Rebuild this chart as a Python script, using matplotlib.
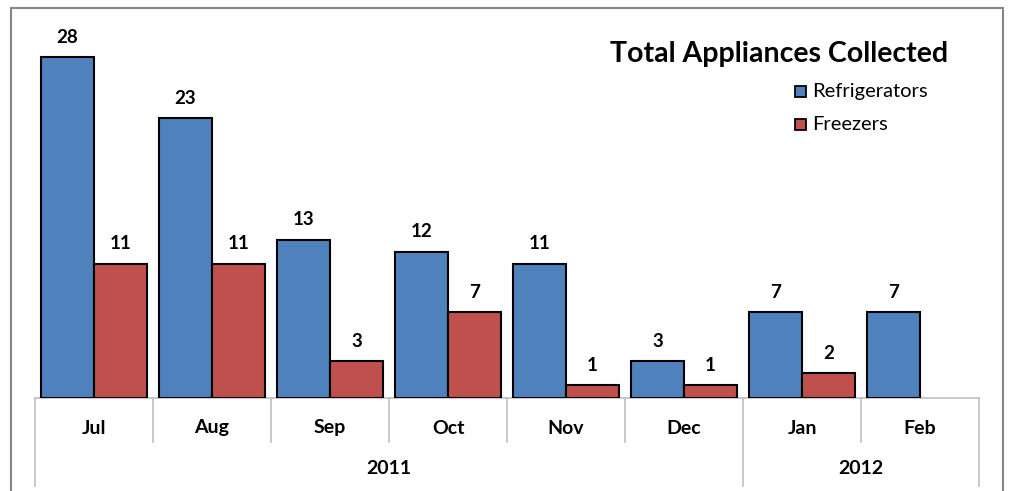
import matplotlib
matplotlib.use("Agg")
import matplotlib.pyplot as plt
from matplotlib.patches import Rectangle
from matplotlib.lines import Line2D

months = ["Jul", "Aug", "Sep", "Oct", "Nov", "Dec", "Jan", "Feb"]
years = ["2011", "2012"]
year_spans = [(0, 6), (6, 8)]
refrigerators = [28, 23, 13, 12, 11, 3, 7, 7]
freezers = [11, 11, 3, 7, 1, 1, 2, None]
title = "Total Appliances Collected"

plt.rcParams['font.family'] = ['Lato', 'DejaVu Sans']

W, H = 1010, 491
fig = plt.figure(figsize=(W / 100, H / 100), dpi=100)
x0, x1 = 35, 979
ytop, ybot = 33, 397.5
ax = fig.add_axes([x0 / W, 1 - ybot / H, (x1 - x0) / W, (ybot - ytop) / H])

blue = "#4F81BD"
red = "#C0504D"
bw = 0.45
fs = 13.5
for i, v in enumerate(refrigerators):
    ax.bar(i - bw / 2, v, bw, color=blue, edgecolor="black", linewidth=1.5, zorder=3)
    ax.text(i - bw / 2, v + 0.95, str(v), ha="center", va="bottom", fontsize=fs, fontweight="bold")
for i, v in enumerate(freezers):
    if v is None:
        continue
    ax.bar(i + bw / 2, v, bw, color=red, edgecolor="black", linewidth=1.5, zorder=3)
    ax.text(i + bw / 2, v + 0.95, str(v), ha="center", va="bottom", fontsize=fs, fontweight="bold")

ax.set_xlim(-0.5, len(months) - 0.5)
ax.set_ylim(0, 30)
for s in ["top", "left", "right"]:
    ax.spines[s].set_visible(False)
ax.spines["bottom"].set_color("#BFBFBF")
ax.spines["bottom"].set_linewidth(1.2)
ax.set_xticks([])
ax.set_yticks([])

trans = ax.get_xaxis_transform()
hpx = ybot - ytop
y_mid = -(442 - ybot) / hpx
y_low = -(486 - ybot) / hpx
y_cat = -(428 - ybot) / hpx
y_year = -(469 - ybot) / hpx
lc = "#BFBFBF"

group_edges = set()
for a, b in year_spans:
    group_edges.add(a)
    group_edges.add(b)
for k in range(len(months) + 1):
    ylow = y_low if k in group_edges else y_mid
    ax.add_line(Line2D([k - 0.5, k - 0.5], [0, ylow], transform=trans, color=lc, lw=1.2, clip_on=False))
for i, m in enumerate(months):
    ax.text(i, y_cat, m, transform=trans, ha="center", va="center", fontsize=14, fontweight="bold")
for (a, b), yr in zip(year_spans, years):
    ax.text((a + b - 1) / 2, y_year, yr, transform=trans, ha="center", va="center", fontsize=14, fontweight="bold")

fig.text(948 / W, 1 - 54 / H, title, ha="right", va="center", fontsize=20.5, fontweight="bold")
for lbl, col, yy in [("Refrigerators", blue, 91), ("Freezers", red, 124)]:
    fig.patches.append(Rectangle((795 / W, 1 - (yy + 6) / H), 11 / W, 11 / H, transform=fig.transFigure,
                                 facecolor=col, edgecolor="black", linewidth=1.3))
    fig.text(812 / W, 1 - yy / H, lbl, ha="left", va="center", fontsize=14.5)

fig.patches.append(Rectangle((11 / W, -0.05), (1003 - 11) / W, 1.05 - 8 / H, transform=fig.transFigure,
                             facecolor="none", edgecolor="#878787", linewidth=1.5))

fig.savefig("out.png", dpi=100)
